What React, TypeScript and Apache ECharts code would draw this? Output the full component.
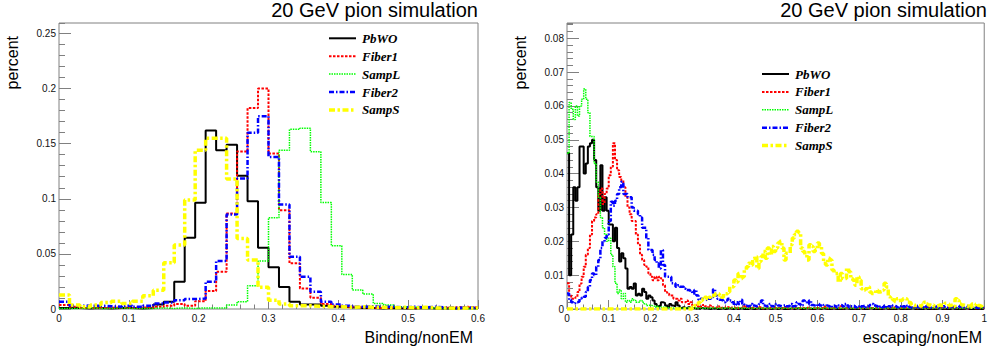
import React, { useEffect, useRef } from 'react';
import * as echarts from 'echarts';

// ---------- labels ----------
const seriesNames = ['PbWO', 'Fiber1', 'SampL', 'Fiber2', 'SampS'];
const titleText = '20 GeV pion simulation';
const yTitle = 'percent';
const leftXTitle = 'Binding/nonEM';
const rightXTitle = 'escaping/nonEM';

// ---------- left panel: Binding/nonEM, 40 bins of 0.015 ----------
const bindingBinWidth = 0.015;
const bindingXMax = 0.6;
const bindingXInterval = 0.1;
const bindingYMax = 0.2595;
const bindingYInterval = 0.05;
const bindingYMinor = 0.01;

const bindingPbWO = [
  0.001, 0.001, 0.0005, 0.001, 0.0005, 0.001, 0.001, 0.0005, 0.001, 0.004,
  0.0066, 0.0248, 0.0647, 0.0964, 0.162, 0.144, 0.149, 0.1208, 0.0978, 0.0556,
  0.0378, 0.02, 0.0066, 0.004, 0.004, 0.003, 0.002, 0.0015, 0.001, 0.001,
  0.0005, 0.001, 0.0005, 0.0005, 0.001, 0.0005, 0.0005, 0.0005, 0.001, 0.0005,
];
const bindingFiber1 = [
  0.0036, 0.002, 0.001, 0.001, 0.001, 0.0015, 0.001, 0.0015, 0.001, 0.002,
  0.003, 0.0045, 0.003, 0.007, 0.0163, 0.0338, 0.0867, 0.143, 0.1824, 0.2,
  0.141, 0.0897, 0.0414, 0.0187, 0.0103, 0.0045, 0.003, 0.002, 0.0015, 0.001,
  0.001, 0.0015, 0.001, 0.001, 0.0015, 0.001, 0.001, 0.0015, 0.002, 0.0015,
];
const bindingSampL = [
  0.0005, 0.0005, 0.001, 0.0005, 0.0005, 0.001, 0.0005, 0.0005, 0.0005, 0.001,
  0.0005, 0.001, 0.0005, 0.001, 0.001, 0.001, 0.0036, 0.0066, 0.021, 0.0435,
  0.0828, 0.144, 0.163, 0.164, 0.1426, 0.0967, 0.0574, 0.0314, 0.0172, 0.0136,
  0.005, 0.0036, 0.002, 0.0015, 0.001, 0.001, 0.0005, 0.001, 0.0005, 0.0005,
];
const bindingFiber2 = [
  0.0066, 0.003, 0.003, 0.003, 0.0025, 0.002, 0.003, 0.002, 0.003, 0.005,
  0.006, 0.008, 0.009, 0.0095, 0.0247, 0.0435, 0.0858, 0.1184, 0.16, 0.175,
  0.138, 0.0948, 0.0474, 0.0293, 0.0157, 0.0066, 0.004, 0.003, 0.002, 0.0025,
  0.002, 0.002, 0.0015, 0.002, 0.0015, 0.002, 0.0015, 0.001, 0.0015, 0.001,
];
const bindingSampS = [
  0.0127, 0.0036, 0.002, 0.0036, 0.006, 0.007, 0.005, 0.007, 0.012, 0.017,
  0.042, 0.058, 0.0988, 0.144, 0.155, 0.155, 0.118, 0.064, 0.0444, 0.0197,
  0.008, 0.0045, 0.003, 0.003, 0.0025, 0.002, 0.002, 0.0015, 0.002, 0.0015,
  0.0015, 0.001, 0.0015, 0.001, 0.0015, 0.001, 0.001, 0.0005, 0.001, 0.001,
];

// ---------- right panel: escaping/nonEM, 200 bins of 0.005 ----------
const escapingBinWidth = 0.005;
const escapingXMax = 1;
const escapingXInterval = 0.1;
const escapingYMax = 0.0845;
const escapingYInterval = 0.01;
const escapingYMinor = 0.002;

const escapingPbWO = [
  0.046, 0.010, 0.022, 0.036, 0.032, 0.036, 0.048, 0.048, 0.040, 0.043,
  0.048, 0.049, 0.050, 0.044, 0.036, 0.029, 0.0425, 0.029, 0.033, 0.029,
  0.025, 0.025, 0.020, 0.024, 0.018, 0.014, 0.0165, 0.015, 0.012, 0.006,
  0.0065, 0.006, 0.0075, 0.004, 0.0045, 0.004, 0.006, 0.005, 0.003, 0.004,
  0.0035, 0.0025, 0.0015, 0.0008, 0.001, 0.002, 0.0018, 0.001, 0.0005, 0.0015,
  0.001, 0.0008, 0.002, 0.001, 0.0003, 0.0005, 0.0003, 0.0002, 0.0005, 0.0002,
  0.0003, 0.0001, 0.0002, 0, 0.0003, 0.0001, 0.0002, 0.0001, 0, 0.0002,
  0.0001, 0.0003, 0, 0.0001, 0.0002, 0, 0.0001, 0.0002, 0.0001, 0,
  0.0002, 0, 0.0001, 0.0002, 0, 0.0001, 0, 0.0002, 0.0001, 0,
  0.0001, 0.0002, 0, 0.0001, 0, 0.0002, 0.0001, 0, 0.0001, 0.0002,
  0, 0.0001, 0.0002, 0, 0.0001, 0, 0.0001, 0.0002, 0, 0.0001,
  0.0002, 0, 0.0001, 0, 0.0002, 0.0001, 0, 0.0001, 0, 0.0002,
  0.0001, 0, 0.0002, 0.0001, 0, 0.0001, 0, 0.0002, 0, 0.0001,
  0, 0.0001, 0, 0.0002, 0.0001, 0, 0.0001, 0, 0.0001, 0,
  0.0002, 0, 0.0001, 0, 0.0001, 0.0002, 0, 0.0001, 0, 0.0001,
  0, 0.0001, 0.0002, 0, 0.0001, 0, 0.0001, 0, 0.0002, 0,
  0.0001, 0, 0.0001, 0, 0.0001, 0.0002, 0, 0.0001, 0, 0.0001,
  0, 0.0002, 0, 0.0001, 0, 0.0001, 0, 0.0001, 0.0002, 0,
  0.0001, 0, 0.0001, 0, 0.0002, 0, 0.0001, 0, 0.0001, 0,
  0.0001, 0.0002, 0, 0.0001, 0, 0.0001, 0, 0.0001, 0, 0.0001,
];
const escapingFiber1 = [
  0.0076, 0.004, 0.003, 0.003, 0.0035, 0.005, 0.0075, 0.0095, 0.0125, 0.016,
  0.018, 0.022, 0.026, 0.027, 0.028, 0.034, 0.0356, 0.031, 0.034, 0.0356,
  0.0395, 0.042, 0.049, 0.044, 0.041, 0.039, 0.038, 0.036, 0.033, 0.030,
  0.028, 0.026, 0.026, 0.022, 0.019, 0.016, 0.0145, 0.013, 0.0125, 0.0105,
  0.0095, 0.0085, 0.0095, 0.0085, 0.0095, 0.009, 0.007, 0.005, 0.0045, 0.004,
  0.004, 0.003, 0.003, 0.0025, 0.003, 0.002, 0.002, 0.0025, 0.0015, 0.002,
  0.001, 0.0012, 0.0008, 0.001, 0.0006, 0.0012, 0.0008, 0.0005, 0.001, 0.0005,
  0.0006, 0.0004, 0.0008, 0.0003, 0.0005, 0.0003, 0.0006, 0.0004, 0.0002, 0.0005,
  0.0003, 0.0005, 0.0002, 0.0004, 0.0003, 0.001, 0.0003, 0.0002, 0.0004, 0.0002,
  0.0003, 0.0002, 0.0005, 0.0002, 0.0003, 0.0002, 0.0004, 0.0002, 0.0008, 0.0003,
  0.0002, 0.0004, 0.0002, 0.0003, 0.0006, 0.0002, 0.0003, 0.0002, 0.0004, 0.0002,
  0.0003, 0.0002, 0.0004, 0.0002, 0.0003, 0.0005, 0.0002, 0.0003, 0.0002, 0.0004,
  0.0002, 0.0003, 0.0002, 0.0006, 0.0002, 0.0003, 0.0002, 0.0004, 0.0002, 0.0003,
  0.0002, 0.0008, 0.0002, 0.0003, 0.0002, 0.0004, 0.0002, 0.0003, 0.0002, 0.0003,
  0.0004, 0.0002, 0.0003, 0.0002, 0.0005, 0.0002, 0.0003, 0.0002, 0.0004, 0.0002,
  0.0003, 0.0002, 0.0004, 0.0002, 0.0003, 0.0002, 0.0005, 0.0002, 0.0003, 0.0002,
  0.0004, 0.0002, 0.0003, 0.0002, 0.0003, 0.0004, 0.0002, 0.0003, 0.0002, 0.0004,
  0.0002, 0.0003, 0.0002, 0.0004, 0.0002, 0.0003, 0.0002, 0.0003, 0.0004, 0.0002,
  0.0003, 0.0002, 0.0004, 0.0002, 0.0003, 0.0002, 0.0003, 0.0002, 0.0004, 0.0002,
  0.0003, 0.0002, 0.0003, 0.0004, 0.0002, 0.0003, 0.0002, 0.0003, 0.0002, 0.0003,
];
const escapingSampL = [
  0.046, 0.061, 0.059, 0.056, 0.060, 0.057, 0.060, 0.062, 0.065, 0.062,
  0.058, 0.051, 0.051, 0.043, 0.0375, 0.033, 0.027, 0.024, 0.022, 0.020,
  0.021, 0.016, 0.0125, 0.0076, 0.0046, 0.0056, 0.003, 0.0046, 0.002, 0.0025,
  0.002, 0.003, 0.0025, 0.002, 0.002, 0.0025, 0.002, 0.0015, 0.001, 0.0012,
  0.001, 0.0008, 0.0005, 0.0008, 0.0005, 0.0006, 0.0004, 0.0005, 0.0003, 0.0004,
  0.0003, 0.0002, 0.0004, 0.0002, 0.0003, 0.0002, 0.0003, 0.0004, 0.0002, 0.0003,
  0.0002, 0.0003, 0.0002, 0.0004, 0.0002, 0.0003, 0.0002, 0.0003, 0.0002, 0.0003,
  0.0004, 0.0002, 0.0003, 0.0002, 0.0003, 0.0002, 0.0004, 0.0002, 0.0003, 0.0002,
  0.0003, 0.0002, 0.0004, 0.0002, 0.0003, 0.0002, 0.0003, 0.0002, 0.0003, 0.0002,
  0.0002, 0.0003, 0.0002, 0.0003, 0.0002, 0.0002, 0.0003, 0.0002, 0.0002, 0.0003,
  0.0002, 0.0002, 0.0003, 0.0002, 0.0002, 0.0003, 0.0002, 0.0002, 0.0003, 0.0002,
  0.0002, 0.0003, 0.0002, 0.0002, 0.0003, 0.0002, 0.0002, 0.0003, 0.0002, 0.0002,
  0.0003, 0.0002, 0.0002, 0.0003, 0.0002, 0.0002, 0.0003, 0.0002, 0.0002, 0.0003,
  0.0002, 0.0002, 0.0003, 0.0002, 0.0002, 0.0003, 0.0002, 0.0002, 0.0003, 0.0002,
  0.0002, 0.0003, 0.0002, 0.0002, 0.0003, 0.0002, 0.0002, 0.0003, 0.0002, 0.0002,
  0.0003, 0.0002, 0.0002, 0.0003, 0.0002, 0.0002, 0.0003, 0.0002, 0.0002, 0.0003,
  0.0002, 0.0002, 0.0003, 0.0002, 0.0002, 0.0003, 0.0002, 0.0002, 0.0003, 0.0002,
  0.0002, 0.0003, 0.0002, 0.0002, 0.0003, 0.0002, 0.0002, 0.0003, 0.0002, 0.0002,
  0.0003, 0.0002, 0.0002, 0.0003, 0.0002, 0.0002, 0.0003, 0.0002, 0.0002, 0.0003,
  0.0002, 0.0002, 0.0003, 0.0002, 0.0002, 0.0003, 0.0002, 0.0002, 0.0003, 0.0002,
];
const escapingFiber2 = [
  0.0046, 0.0027, 0.002, 0.0017, 0.002, 0.0022, 0.003, 0.0033, 0.0036, 0.005,
  0.0065, 0.0086, 0.0105, 0.010, 0.0125, 0.0145, 0.018, 0.020, 0.021, 0.022,
  0.026, 0.0317, 0.0305, 0.032, 0.034, 0.036, 0.0376, 0.034, 0.034, 0.033,
  0.033, 0.030, 0.029, 0.029, 0.028, 0.027, 0.024, 0.024, 0.021, 0.0174,
  0.0174, 0.016, 0.0145, 0.0135, 0.012, 0.0174, 0.013, 0.0095, 0.0095, 0.0095,
  0.0076, 0.0076, 0.0066, 0.007, 0.0066, 0.0066, 0.006, 0.0056, 0.0056, 0.005,
  0.0045, 0.0056, 0.004, 0.0027, 0.003, 0.0027, 0.0027, 0.0025, 0.003, 0.0035,
  0.0058, 0.004, 0.003, 0.0027, 0.0025, 0.002, 0.0025, 0.003, 0.0025, 0.002,
  0.0012, 0.002, 0.0015, 0.0027, 0.0015, 0.001, 0.0008, 0.001, 0.0015, 0.001,
  0.0008, 0.001, 0.0015, 0.0025, 0.001, 0.0008, 0.001, 0.0015, 0.0008, 0.001,
  0.0015, 0.001, 0.0008, 0.001, 0.0012, 0.0008, 0.001, 0.0015, 0.0008, 0.001,
  0.002, 0.0015, 0.001, 0.0025, 0.002, 0.0015, 0.0025, 0.0012, 0.001, 0.0008,
  0.0015, 0.001, 0.0008, 0.0012, 0.001, 0.0008, 0.0005, 0.001, 0.0008, 0.0005,
  0.001, 0.0012, 0.0008, 0.0015, 0.001, 0.0005, 0.0008, 0.001, 0.0005, 0.0008,
  0.0005, 0.0008, 0.001, 0.0005, 0.0008, 0.0012, 0.0015, 0.001, 0.0008, 0.0005,
  0.0008, 0.0005, 0.001, 0.0005, 0.0008, 0.0005, 0.001, 0.0008, 0.0005, 0.0008,
  0.0005, 0.0008, 0.0005, 0.001, 0.0005, 0.0003, 0.0005, 0.0008, 0.0005, 0.0003,
  0.0005, 0.0003, 0.0008, 0.0005, 0.0003, 0.0005, 0.0008, 0.0005, 0.0003, 0.0005,
  0.0008, 0.0005, 0.0003, 0.0005, 0.0008, 0.0005, 0.0003, 0.0005, 0.0008, 0.0005,
  0.0003, 0.0005, 0.0008, 0.0005, 0.0003, 0.0005, 0.0003, 0.0005, 0.0008, 0.0005,
];
const escapingSampS = [
  0, 0, 0, 0, 0, 0, 0, 0, 0, 0,
  0, 0, 0, 0, 0, 0, 0, 0, 0, 0,
  0, 0, 0, 0, 0, 0, 0, 0, 0, 0,
  0, 0, 0, 0, 0, 0, 0, 0, 0, 0,
  0, 0, 0, 0, 0, 0, 0, 0, 0, 0,
  0, 0, 0, 0, 0, 0, 0, 0, 0, 0,
  0.0005, 0.001, 0.0015, 0.002, 0.0025, 0.003, 0.0035, 0.003, 0.0035, 0.004,
  0.004, 0.0045, 0.0045, 0.004, 0.0035, 0.0045, 0.0045, 0.005, 0.0066, 0.0066,
  0.0086, 0.008, 0.0105, 0.009, 0.0095, 0.0115, 0.0125, 0.0135, 0.013, 0.015,
  0.0155, 0.012, 0.014, 0.0155, 0.017, 0.015, 0.018, 0.016, 0.0185, 0.017,
  0.018, 0.0195, 0.020, 0.018, 0.0145, 0.0165, 0.0165, 0.019, 0.021, 0.022,
  0.023, 0.0225, 0.018, 0.017, 0.016, 0.0145, 0.019, 0.0185, 0.017, 0.0175,
  0.0195, 0.0185, 0.0164, 0.0135, 0.013, 0.015, 0.0145, 0.0115, 0.0105, 0.0105,
  0.008, 0.0105, 0.009, 0.009, 0.012, 0.011, 0.009, 0.0085, 0.007, 0.0095,
  0.0085, 0.006, 0.0056, 0.006, 0.0066, 0.005, 0.0046, 0.0046, 0.0056, 0.005,
  0.0052, 0.0056, 0.0076, 0.0065, 0.0036, 0.003, 0.0027, 0.0022, 0.003, 0.0025,
  0.0027, 0.003, 0.003, 0.002, 0.0018, 0.0012, 0.001, 0.0012, 0.001, 0.0008,
  0.0012, 0.002, 0.0015, 0.0012, 0.001, 0.0012, 0.0008, 0.001, 0.0012, 0.001,
  0.0012, 0.0017, 0.0015, 0.001, 0.0012, 0.0008, 0.003, 0.0025, 0.0015, 0.0012,
  0.001, 0.0008, 0.001, 0.0005, 0.0015, 0.0012, 0.0015, 0.001, 0.0008, 0.0005,
];

// ---------- styles ----------
const seriesColors = ['#000000', '#ff0000', '#00ff00', '#0000ff', '#ffff00'];
const seriesWidths = [2, 2, 1.5, 2.5, 3.5];
const seriesDashes: any[] = ['solid', [2.5, 1.5], [1.5, 1], [5, 2, 1.5, 2], [6, 2.5, 2.5, 2.5]];

const SANS = '"Liberation Sans", Arial, Helvetica, sans-serif';
const SERIF = '"Liberation Serif", "Times New Roman", serif';
const FRAME = '#808080';

function toHist(vals: number[], w: number) {
  const pts: number[][] = vals.map((v, i) => [Number((i * w).toFixed(4)), v]);
  pts.push([Number((vals.length * w).toFixed(4)), vals[vals.length - 1]]);
  return pts;
}

function makeXAxis(gridIndex: number, max: number, interval: number) {
  return {
    type: 'value',
    gridIndex,
    min: 0,
    max,
    interval,
    axisLine: { show: false },
    axisTick: { show: true, inside: true, length: 9, lineStyle: { color: FRAME } },
    minorTick: { show: true, splitNumber: 5, length: 4.5, lineStyle: { color: FRAME } },
    splitLine: { show: false },
    minorSplitLine: { show: false },
    axisLabel: { margin: 4, fontSize: 10, fontFamily: SANS, color: '#111' },
  };
}

function makeYAxes(gridIndex: number, max: number, interval: number, minor: number) {
  return [
    {
      type: 'value',
      gridIndex,
      position: 'left',
      min: 0,
      max,
      interval,
      axisLine: { show: false },
      axisTick: { show: true, inside: true, length: 12, lineStyle: { color: FRAME } },
      splitLine: { show: false },
      axisLabel: { margin: 3, fontSize: 10, fontFamily: SANS, color: '#111', showMaxLabel: false },
    },
    {
      type: 'value',
      gridIndex,
      position: 'left',
      min: 0,
      max,
      interval: minor,
      axisLine: { show: false },
      axisTick: { show: true, inside: true, length: 6, lineStyle: { color: FRAME } },
      splitLine: { show: false },
      axisLabel: { show: false },
    },
  ];
}

// legend drawn as graphic line + text (ROOT style, no marker)
function legendGraphics(lineX: number, firstRowY: number, rowGap: number) {
  const els: any[] = [];
  seriesNames.forEach((name, k) => {
    const y = firstRowY + k * rowGap;
    els.push({
      type: 'line',
      shape: { x1: lineX, y1: y, x2: lineX + 27, y2: y },
      style: {
        stroke: seriesColors[k],
        lineWidth: seriesWidths[k],
        lineDash: Array.isArray(seriesDashes[k]) ? seriesDashes[k] : null,
      },
      silent: true,
    });
    els.push({
      type: 'text',
      x: lineX + 33,
      y,
      style: {
        text: name,
        align: 'left',
        verticalAlign: 'middle',
        fontFamily: SERIF,
        fontWeight: 'bold',
        fontStyle: 'italic',
        fontSize: 13,
        fill: '#000',
      },
      silent: true,
    });
  });
  return els;
}

export default function App() {
  const ref = useRef<HTMLDivElement>(null);

  useEffect(() => {
    if (!ref.current) return;
    const chart = echarts.init(ref.current, undefined, { renderer: 'svg' });

    const leftSets = [bindingPbWO, bindingFiber1, bindingSampL, bindingFiber2, bindingSampS];
    const rightSets = [escapingPbWO, escapingFiber1, escapingSampL, escapingFiber2, escapingSampS];

    const series: any[] = [];
    const addSeries = (sets: number[][], w: number, xi: number, yi: number) => {
      sets.forEach((vals, k) => {
        series.push({
          type: 'line',
          name: seriesNames[k],
          xAxisIndex: xi,
          yAxisIndex: yi,
          step: 'end',
          symbol: 'none',
          showSymbol: false,
          silent: true,
          clip: true,
          emphasis: { disabled: true },
          lineStyle: { color: seriesColors[k], width: seriesWidths[k], type: seriesDashes[k] },
          itemStyle: { color: seriesColors[k] },
          data: toHist(vals, w),
        });
      });
    };
    addSeries(leftSets, bindingBinWidth, 0, 0);
    addSeries(rightSets, escapingBinWidth, 1, 2);

    const option: any = {
      animation: false,
      backgroundColor: '#ffffff',
      grid: [
        { left: 59, top: 23, width: 419, height: 286, show: true, borderColor: FRAME, borderWidth: 1, backgroundColor: 'transparent' },
        { left: 567, top: 23, width: 420, height: 286, show: true, borderColor: FRAME, borderWidth: 1, backgroundColor: 'transparent' },
      ],
      xAxis: [
        makeXAxis(0, bindingXMax, bindingXInterval),
        makeXAxis(1, escapingXMax, escapingXInterval),
      ],
      yAxis: [
        ...makeYAxes(0, bindingYMax, bindingYInterval, bindingYMinor),
        ...makeYAxes(1, escapingYMax, escapingYInterval, escapingYMinor),
      ],
      graphic: [
        { type: 'text', x: 478, y: 10, style: { text: titleText, align: 'right', verticalAlign: 'middle', fontSize: 20, fontFamily: SANS, fill: '#000' } },
        { type: 'text', x: 987, y: 10, style: { text: titleText, align: 'right', verticalAlign: 'middle', fontSize: 20, fontFamily: SANS, fill: '#000' } },
        { type: 'text', x: 12, y: 36, rotation: Math.PI / 2, style: { text: yTitle, align: 'right', verticalAlign: 'middle', fontSize: 16, fontFamily: SANS, fill: '#000' } },
        { type: 'text', x: 520, y: 36, rotation: Math.PI / 2, style: { text: yTitle, align: 'right', verticalAlign: 'middle', fontSize: 16, fontFamily: SANS, fill: '#000' } },
        { type: 'text', x: 473, y: 337, style: { text: leftXTitle, align: 'right', verticalAlign: 'middle', fontSize: 16, fontFamily: SANS, fill: '#000' } },
        { type: 'text', x: 982, y: 337, style: { text: rightXTitle, align: 'right', verticalAlign: 'middle', fontSize: 16, fontFamily: SANS, fill: '#000' } },
        ...legendGraphics(329, 38.3, 17.9),
        ...legendGraphics(762, 74, 17.9),
      ],
      series,
    };

    chart.setOption(option);
    return () => chart.dispose();
  }, []);

  return (
    <div
      ref={ref}
      style={{ position: 'fixed', left: 0, top: 0, width: 990, height: 354, background: '#fff' }}
    />
  );
}
